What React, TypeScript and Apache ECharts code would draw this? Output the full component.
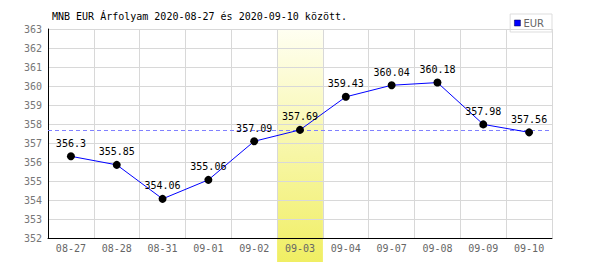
import React, { useEffect, useRef } from "react";
import * as echarts from "echarts";

const categories = ["08-27", "08-28", "08-31", "09-01", "09-02", "09-03", "09-04", "09-07", "09-08", "09-09", "09-10"];
const values = [356.3, 355.85, 354.06, 355.06, 357.09, 357.69, 359.43, 360.04, 360.18, 357.98, 357.56];
const highlightCategory = "09-03";
const referenceValue = 357.69;
const titleText = "MNB EUR Árfolyam 2020-08-27 és 2020-09-10 között.";
const seriesName = "EUR";

const MONO = "'DejaVu Sans Mono', monospace";

export default function App() {
  const ref = useRef<HTMLDivElement>(null);
  useEffect(() => {
    if (!ref.current) return;
    const chart = echarts.init(ref.current, undefined, { renderer: "svg" });
    const gridLeft = 48, gridRight = 48, gridTop = 29, gridBottom = 32;
    chart.setOption({
      animation: false,
      backgroundColor: "#ffffff",
      title: {
        text: titleText,
        left: 52,
        top: 11,
        padding: 0,
        textStyle: { fontFamily: MONO, fontSize: 10, fontWeight: "normal", color: "#000" },
      },
      legend: {
        right: 48,
        top: 14,
        data: [{ name: seriesName, icon: "rect", itemStyle: { color: "#0000ff", borderColor: "#000044", borderWidth: 0.5 } }],
        itemWidth: 6,
        itemHeight: 6,
        itemGap: 2,
        padding: [4, 8, 4, 4],
        borderColor: "#dddddd",
        borderWidth: 1,
        textStyle: { fontFamily: "'DejaVu Sans', sans-serif", fontSize: 10, color: "#666", padding: [0, 0, 0, -2] },
      },
      grid: { left: gridLeft, right: gridRight, top: gridTop, bottom: gridBottom },
      xAxis: {
        type: "category",
        data: categories,
        boundaryGap: true,
        z: 3,
        axisLine: { lineStyle: { color: "#000", width: 1 } },
        axisTick: { show: false },
        axisLabel: { fontFamily: MONO, fontSize: 10, color: "#666", margin: 5, interval: 0 },
        splitLine: { show: true, lineStyle: { color: "#d8d8d8", width: 1 } },
      },
      yAxis: {
        type: "value",
        min: 352,
        max: 363,
        interval: 1,
        z: 3,
        axisLine: { show: true, lineStyle: { color: "#000", width: 1 } },
        axisTick: { show: false },
        axisLabel: { fontFamily: MONO, fontSize: 10, color: "#777", margin: 6 },
        splitLine: { show: true, lineStyle: { color: "#d8d8d8", width: 1 } },
      },
      series: [
        {
          name: seriesName,
          type: "line",
          data: values,
          z: 5,
          color: "#0000ff",
          lineStyle: { color: "#0000ff", width: 1 },
          symbol: "circle",
          symbolSize: 8,
          itemStyle: { color: "#000" },
          label: {
            show: true,
            position: "top",
            distance: 4,
            fontFamily: MONO,
            fontSize: 10,
            color: "#000",
            formatter: (p: any) => String(p.value),
          },
          markLine: {
            silent: true,
            symbol: "none",
            label: { show: false },
            lineStyle: { color: "#8080ff", type: [4, 3], width: 1 },
            data: [{ yAxis: referenceValue }],
          },
        },
      ],
    });
    const cx = chart.convertToPixel({ xAxisIndex: 0 }, highlightCategory) as number;
    const topY = chart.convertToPixel({ yAxisIndex: 0 }, 363) as number;
    const width = ref.current.clientWidth;
    const bandW = (width - gridLeft - gridRight) / categories.length;
    chart.setOption({
      graphic: [
        {
          type: "rect",
          z: 1,
          silent: true,
          shape: { x: cx - bandW / 2, y: topY, width: bandW, height: 267 - topY },
          style: {
            fill: new echarts.graphic.LinearGradient(0, 0, 0, 1, [
              { offset: 0, color: "#fffff2" },
              { offset: 1, color: "#f0ee60" },
            ]),
          },
        },
      ],
    });
    return () => chart.dispose();
  }, []);
  return <div ref={ref} style={{ width: 600, height: 270, margin: -8 }} />;
}
